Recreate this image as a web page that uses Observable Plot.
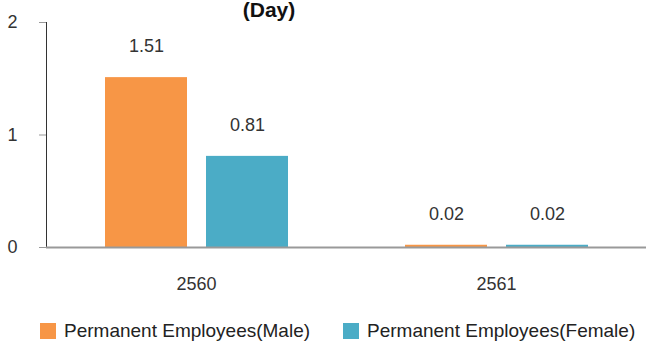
<!DOCTYPE html>
<html>
<head>
<meta charset="utf-8">
<script src="https://cdn.jsdelivr.net/npm/d3@7"></script>
<script src="https://cdn.jsdelivr.net/npm/@observablehq/plot@0.6"></script>
<style>
  body { margin: 0; background: #fff; }
  #wrap { position: relative; width: 646px; height: 342px; overflow: hidden; font-family: "Liberation Sans", Arial, sans-serif; color: #333; }
  #title { position: absolute; left: 0; width: 538px; top: -1px; text-align: center; font-weight: bold; font-size: 21px; line-height: 21px; color: #111; }
  .leg { position: absolute; top: 321px; font-size: 19px; line-height: 19px; display: flex; align-items: center; color: #222; }
  .sw { width: 16px; height: 16px; margin-right: 8px; }
</style>
</head>
<body>
<div id="wrap">
  <div id="chart"></div>
  <div id="title">(Day)</div>
  <div id="legend"></div>
</div>
<script>
const years = ["2560", "2561"];
const seriesNames = ["Permanent Employees(Male)", "Permanent Employees(Female)"];
const maleValues = [1.51, 0.02];
const femaleValues = [0.81, 0.02];
const colors = ["#F79646", "#4BACC6"];
const yTicks = [0, 1, 2];

const rows = [];
years.forEach((yr, i) => {
  rows.push({year: yr, series: seriesNames[0], value: maleValues[i]});
  rows.push({year: yr, series: seriesNames[1], value: femaleValues[i]});
});

const chart = Plot.plot({
  width: 646,
  height: 300,
  marginLeft: 46,
  marginRight: 0,
  marginTop: 22,
  marginBottom: 53,
  style: {fontSize: "18px", fontFamily: "'Liberation Sans', Arial, sans-serif", color: "#333"},
  fx: {domain: years, padding: 0, axis: "bottom", tickSize: 0, tickPadding: 30, label: null},
  x: {domain: seriesNames, axis: null, paddingInner: 0.19, paddingOuter: 0.58},
  y: {domain: [0, 2], ticks: yTicks, tickFormat: d3.format("d"), tickSize: 7, tickPadding: 22, line: true, label: null},
  color: {domain: seriesNames, range: colors},
  facet: {data: rows, x: "year"},
  marks: [
    Plot.barY(rows, {x: "series", y: "value", fill: "series"}),
    Plot.ruleY([0], {stroke: "#999", strokeWidth: 2}),
    Plot.text(rows, {x: "series", y: "value", text: d => d.value.toFixed(2), dy: -31, fontSize: 18, fill: "#333"})
  ]
});
document.getElementById("chart").appendChild(chart);
d3.select(chart).selectAll("[aria-label='y-axis'] path, [aria-label='y-axis'] line, [aria-label='y-axis tick'] path").attr("stroke", "#999");

const legend = document.getElementById("legend");
const legX = [40, 343];
seriesNames.forEach((s, i) => {
  const item = document.createElement("div");
  item.className = "leg";
  item.style.left = legX[i] + "px";
  item.innerHTML = `<div class="sw" style="background:${colors[i]}"></div><span>${s}</span>`;
  legend.appendChild(item);
});
</script>
</body>
</html>
